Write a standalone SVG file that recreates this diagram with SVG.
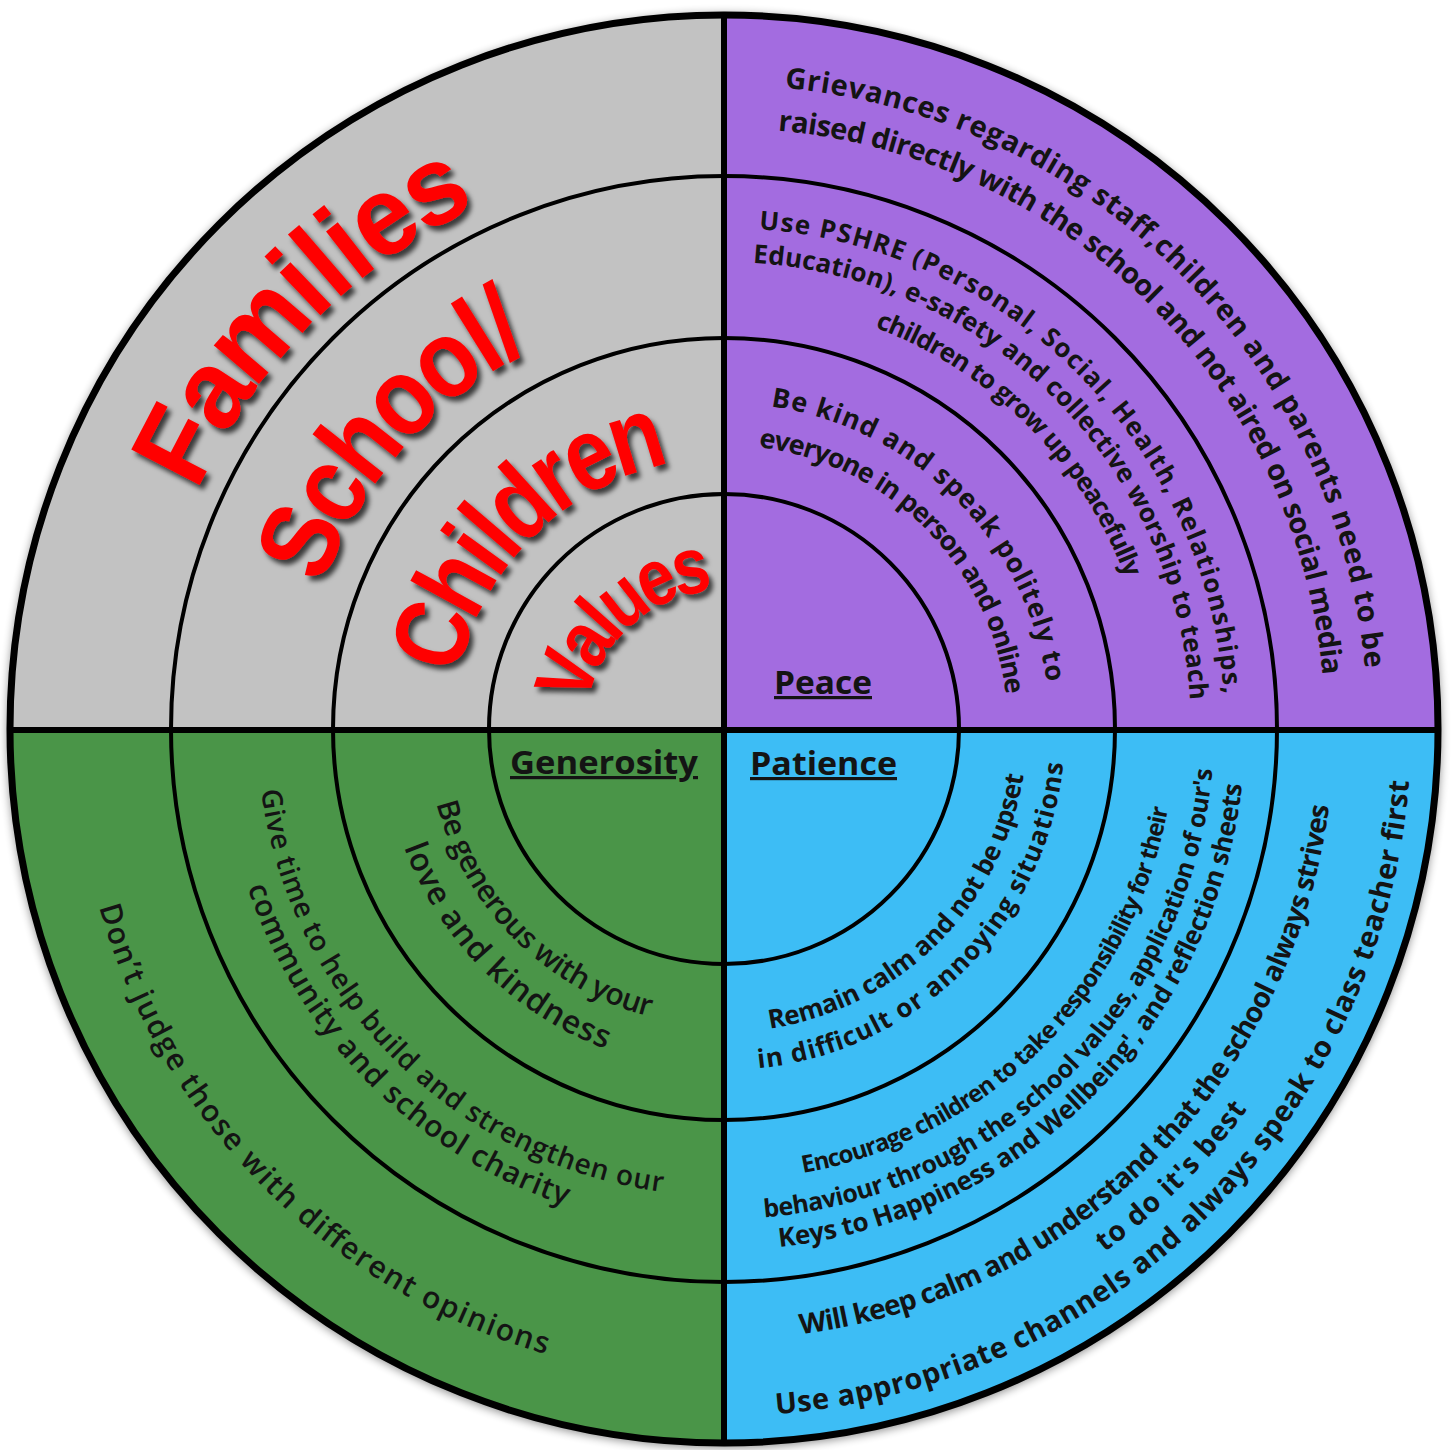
<svg xmlns="http://www.w3.org/2000/svg" width="1453" height="1450" viewBox="0 0 1453 1450">
<defs>
<style>
.t{font-family:"Open Sans","Noto Sans","DejaVu Sans",sans-serif;fill:#141414;}
.bd{font-weight:700;}
.md{font-weight:600;}
.red{font-family:"Liberation Sans",Arial,sans-serif;font-weight:700;fill:#ff0000;filter:url(#sh);}
.ring{fill:none;stroke:#000;stroke-width:4;}
.lab{font-family:"Open Sans","Noto Sans",sans-serif;font-weight:700;font-size:32px;fill:#141414;text-decoration:underline;}
</style>
<filter id="sh" x="-20%" y="-20%" width="140%" height="140%"><feDropShadow dx="4" dy="5" stdDeviation="2.5" flood-color="#000" flood-opacity="0.7"/></filter>
<filter id="halo" x="-5%" y="-5%" width="110%" height="110%"><feGaussianBlur stdDeviation="5"/></filter>
<path id="p1" d="M557.3,107.0 A644,644 0 0 1 1346.0,895.7"/>
<path id="p2" d="M568.5,148.5 A601,601 0 0 1 1304.5,884.5"/>
<path id="p3" d="M594.3,245.1 A501,501 0 0 1 1207.9,858.7"/>
<path id="p4" d="M603.1,277.9 A467,467 0 0 1 1175.1,849.9"/>
<path id="p5" d="M613.0,314.6 A429,429 0 0 1 1138.4,840.0"/>
<path id="p6" d="M639.6,414.1 A326,326 0 0 1 1038.9,813.4"/>
<path id="p7" d="M650.5,454.7 A284,284 0 0 1 998.3,802.5"/>
<path id="b1" d="M645.6,1021.7 A303,303 0 0 0 1016.7,650.6"/>
<path id="b2" d="M635.7,1058.4 A341,341 0 0 0 1053.4,640.7"/>
<path id="b3" d="M607.3,1164.6 A451,451 0 0 0 1159.6,612.3"/>
<path id="b4" d="M597.2,1202.3 A490,490 0 0 0 1197.3,602.2"/>
<path id="b5" d="M589.2,1232.2 A521,521 0 0 0 1227.2,594.2"/>
<path id="b6" d="M566.1,1318.2 A610,610 0 0 0 1313.2,571.1"/>
<path id="b7" d="M556.6,1353.9 A647,647 0 0 0 1348.9,561.6"/>
<path id="b8" d="M546.2,1392.6 A687,687 0 0 0 1387.6,551.2"/>
<path id="g1" d="M437.1,652.1 A297,297 0 0 0 800.9,1015.9"/>
<path id="g2" d="M394.6,640.7 A341,341 0 0 0 812.3,1058.4"/>
<path id="g3" d="M272.9,608.1 A467,467 0 0 0 844.9,1180.1"/>
<path id="g4" d="M239.1,599.1 A502,502 0 0 0 853.9,1213.9"/>
<path id="g5" d="M96.2,560.8 A650,650 0 0 0 892.2,1356.8"/>
<path id="r1" d="M129.5,893.9 A617,617 0 0 1 878.5,131.7"/>
<path id="r2" d="M283.0,876.5 A465,465 0 0 1 816.7,273.4"/>
<path id="r3" d="M427.5,808.5 A307,307 0 0 1 803.5,432.5"/>
<path id="r4" d="M560.7,763.7 A167,167 0 0 1 775.6,570.2"/>
</defs>
<rect width="1453" height="1450" fill="#fff"/>
<g id="disc">
<circle cx="724" cy="731" r="717" fill="#000" opacity="0.45" filter="url(#halo)"/>
<path id="q-grey" d="M724,729 L10,729 A714,714 0 0 1 724,15 Z" fill="#c2c2c2"/>
<path id="q-purple" d="M724,729 L724,15 A714,714 0 0 1 1438,729 Z" fill="#a36ce0"/>
<path id="q-blue" d="M724,729 L1438,729 A714,714 0 0 1 724,1443 Z" fill="#3dbdf5"/>
<path id="q-green" d="M724,729 L724,1443 A714,714 0 0 1 10,729 Z" fill="#4a9548"/>
<circle class="ring" cx="724" cy="729" r="553"/>
<circle class="ring" cx="724" cy="729" r="391"/>
<circle class="ring" cx="724" cy="729" r="235"/>
<line x1="724" y1="15" x2="724" y2="1443" stroke="#000" stroke-width="6"/>
<line x1="10" y1="730" x2="1438" y2="730" stroke="#000" stroke-width="6"/>
<circle cx="724" cy="729" r="714" fill="none" stroke="#000" stroke-width="7"/>
</g>
<g id="title">
<text class="red" font-size="112" dominant-baseline="central"><textPath href="#r1" startOffset="50%" text-anchor="middle" textLength="432" lengthAdjust="spacingAndGlyphs">Families</textPath></text>
<text class="red" font-size="110" dominant-baseline="central"><textPath href="#r2" startOffset="50%" text-anchor="middle" textLength="349" lengthAdjust="spacingAndGlyphs">School/</textPath></text>
<text class="red" font-size="104" dominant-baseline="central"><textPath href="#r3" startOffset="50%" text-anchor="middle" textLength="354" lengthAdjust="spacingAndGlyphs">Children</textPath></text>
<text class="red" font-size="80" dominant-baseline="central"><textPath href="#r4" startOffset="50%" text-anchor="middle" textLength="213" lengthAdjust="spacingAndGlyphs">Values</textPath></text>
</g>
<g id="peace">
<text class="lab" x="774" y="694" textLength="98" lengthAdjust="spacingAndGlyphs">Peace</text>
<text class="t bd" font-size="27"><textPath href="#p6" startOffset="50%" text-anchor="middle" textLength="418">Be kind and speak politely to</textPath></text>
<text class="t bd" font-size="27"><textPath href="#p7" startOffset="50%" text-anchor="middle" textLength="377">everyone in person and online</textPath></text>
<text class="t bd" font-size="26"><textPath href="#p3" startOffset="50%" text-anchor="middle" textLength="717">Use PSHRE (Personal, Social, Health, Relationships,</textPath></text>
<text class="t bd" font-size="26"><textPath href="#p4" startOffset="50%" text-anchor="middle" textLength="676">Education), e-safety and collective worship to teach</textPath></text>
<text class="t bd" font-size="26"><textPath href="#p5" startOffset="50%" text-anchor="middle" textLength="365">children to grow up peacefully</textPath></text>
<text class="t bd" font-size="29"><textPath href="#p1" startOffset="50%" text-anchor="middle" textLength="890">Grievances regarding staff,children and parents need to be</textPath></text>
<text class="t bd" font-size="29"><textPath href="#p2" startOffset="50%" text-anchor="middle" textLength="836">raised directly with the school and not aired on social media</textPath></text>
</g>
<g id="patience">
<text class="lab" x="750" y="775" textLength="147" lengthAdjust="spacingAndGlyphs">Patience</text>
<text class="t bd" font-size="26"><textPath href="#b1" startOffset="50%" text-anchor="middle" textLength="384">Remain calm and not be upset</textPath></text>
<text class="t bd" font-size="26"><textPath href="#b2" startOffset="50%" text-anchor="middle" textLength="467">in difficult or annoying situations</textPath></text>
<text class="t bd" font-size="24"><textPath href="#b3" startOffset="50%" text-anchor="middle" textLength="549">Encourage children to take responsibility for their</textPath></text>
<text class="t bd" font-size="25"><textPath href="#b4" startOffset="50%" text-anchor="middle" textLength="689">behaviour through the school values, application of our's</textPath></text>
<text class="t bd" font-size="26"><textPath href="#b5" startOffset="50%" text-anchor="middle" textLength="707">Keys to Happiness and Wellbeing', and reflection sheets</textPath></text>
<text class="t bd" font-size="28"><textPath href="#b6" startOffset="50%" text-anchor="middle" textLength="804">Will keep calm and understand that the school always strives</textPath></text>
<text class="t bd" font-size="28"><textPath href="#b7" startOffset="50%" text-anchor="middle" textLength="203">to do it's best</textPath></text>
<text class="t bd" font-size="29"><textPath href="#b8" startOffset="50%" text-anchor="middle" textLength="975">Use appropriate channels and always speak to class teacher first</textPath></text>
</g>
<g id="generosity">
<text class="lab" x="510" y="774" textLength="188" lengthAdjust="spacingAndGlyphs">Generosity</text>
<text class="t md" font-size="30"><textPath href="#g1" startOffset="50%" text-anchor="middle" textLength="316">Be generous with your</textPath></text>
<text class="t md" font-size="32"><textPath href="#g2" startOffset="50%" text-anchor="middle" textLength="294">love and kindness</textPath></text>
<text class="t md" font-size="28"><textPath href="#g3" startOffset="50%" text-anchor="middle" textLength="610">Give time to help build and strengthen our</textPath></text>
<text class="t md" font-size="30"><textPath href="#g4" startOffset="50%" text-anchor="middle" textLength="466">community and school charity</textPath></text>
<text class="t md" font-size="30"><textPath href="#g5" startOffset="50%" text-anchor="middle" textLength="660">Don’t judge those with different opinions</textPath></text>
</g>
</svg>
